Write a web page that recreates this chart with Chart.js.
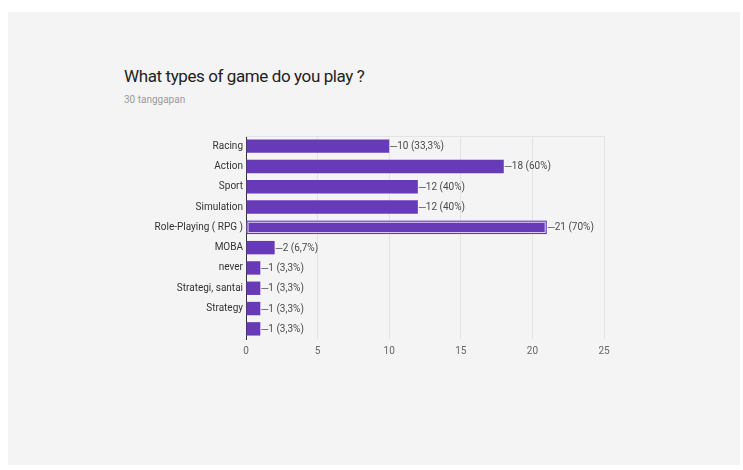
<!DOCTYPE html>
<html lang="id">
<head>
    <meta charset="UTF-8">
    <title>What types of game do you play ?</title>
    <script src="https://cdn.jsdelivr.net/npm/chart.js"></script>
    <style>
        body {
            margin: 0;
            background: #ffffff;
            font-family: Roboto, Arial, sans-serif;
        }
        #card {
            position: absolute;
            left: 8px;
            top: 12px;
            width: 732px;
            height: 453px;
            background: #f4f4f4;
        }
        #title {
            position: absolute;
            left: 124px;
            top: 66px;
            font-size: 17px;
            color: #222;
            letter-spacing: -0.4px;
        }
        #sub {
            position: absolute;
            left: 124px;
            top: 94px;
            font-size: 10px;
            color: #9a9a9a;
        }
        #wrap {
            position: absolute;
            left: 0;
            top: 0;
            width: 743px;
            height: 470px;
        }
    </style>
</head>
<body>
    <div id="card"></div>
    <div id="title">What types of game do you play ?</div>
    <div id="sub">30 tanggapan</div>
    <div id="wrap"><canvas id="gameChart"></canvas></div>

    <script>
        const categories = ['Racing', 'Action', 'Sport', 'Simulation', 'Role-Playing ( RPG )',
                            'MOBA', 'never', 'Strategi, santai', 'Strategy', ''];
        const counts = [10, 18, 12, 12, 21, 2, 1, 1, 1, 1];
        const percents = ['33,3%', '60%', '40%', '40%', '70%', '6,7%', '3,3%', '3,3%', '3,3%', '3,3%'];
        const xTicks = [0, 5, 10, 15, 20, 25];
        const highlighted = 4;

        // value labels "—10 (33,3%)" next to each bar, plus the selected bar outline
        const barLabels = {
            id: 'barLabels',
            afterDatasetsDraw(chart) {
                const ctx = chart.ctx;
                const area = chart.chartArea;
                ctx.save();
                ctx.strokeStyle = '#e3e3e3';
                ctx.lineWidth = 1;
                ctx.beginPath();
                ctx.moveTo(area.left, area.top + 0.5);
                ctx.lineTo(area.right, area.top + 0.5);
                ctx.stroke();

                const meta = chart.getDatasetMeta(0);
                meta.data.forEach((bar, i) => {
                    const h = bar.height;
                    if (i === highlighted) {
                        ctx.strokeStyle = '#5e35b1';
                        ctx.lineWidth = 1;
                        ctx.strokeRect(bar.base + 0.5, bar.y - h / 2 + 0.5, bar.x - bar.base - 1, h - 1);
                    }
                    const x = bar.x + 1;
                    ctx.strokeStyle = '#777';
                    ctx.lineWidth = 1;
                    ctx.beginPath();
                    ctx.moveTo(x, Math.round(bar.y) + 0.5);
                    ctx.lineTo(x + 7, Math.round(bar.y) + 0.5);
                    ctx.stroke();
                    ctx.fillStyle = '#4a4a4a';
                    ctx.font = '10px Roboto, Arial, sans-serif';
                    ctx.textBaseline = 'middle';
                    ctx.fillText(counts[i] + ' (' + percents[i] + ')', x + 7, bar.y + 0.5);
                });
                ctx.restore();
            }
        };

        const ctx = document.getElementById('gameChart').getContext('2d');
        new Chart(ctx, {
            type: 'bar',
            data: {
                labels: categories,
                datasets: [{
                    data: counts,
                    backgroundColor: '#673ab7',
                    borderColor: counts.map((v, i) => i === highlighted ? '#d8ccef' : '#673ab7'),
                    borderWidth: counts.map((v, i) => i === highlighted ? 2 : 0),
                    borderSkipped: false,
                    barPercentage: 0.66,
                    categoryPercentage: 1.0
                }]
            },
            options: {
                indexAxis: 'y',
                responsive: true,
                maintainAspectRatio: false,
                animation: false,
                layout: { padding: { left: 0, right: 139, top: 136, bottom: 109 } },
                plugins: {
                    legend: { display: false },
                    tooltip: { enabled: false }
                },
                scales: {
                    x: {
                        min: 0,
                        max: 25,
                        afterBuildTicks: (scale) => { scale.ticks = xTicks.map(v => ({ value: v })); },
                        afterFit: (scale) => { scale.height = 22; },
                        ticks: {
                            color: '#666',
                            padding: 6,
                            font: { family: 'Roboto, Arial, sans-serif', size: 10 }
                        },
                        grid: { color: '#e3e3e3', drawTicks: false },
                        border: { display: false }
                    },
                    y: {
                        afterFit: (scale) => { scale.width = 246; },
                        ticks: {
                            color: '#333',
                            padding: 3,
                            font: { family: 'Roboto, Arial, sans-serif', size: 10 }
                        },
                        grid: { display: false, drawTicks: false },
                        border: { display: true, color: '#333', width: 1 }
                    }
                }
            },
            plugins: [barLabels]
        });
    </script>
</body>
</html>
